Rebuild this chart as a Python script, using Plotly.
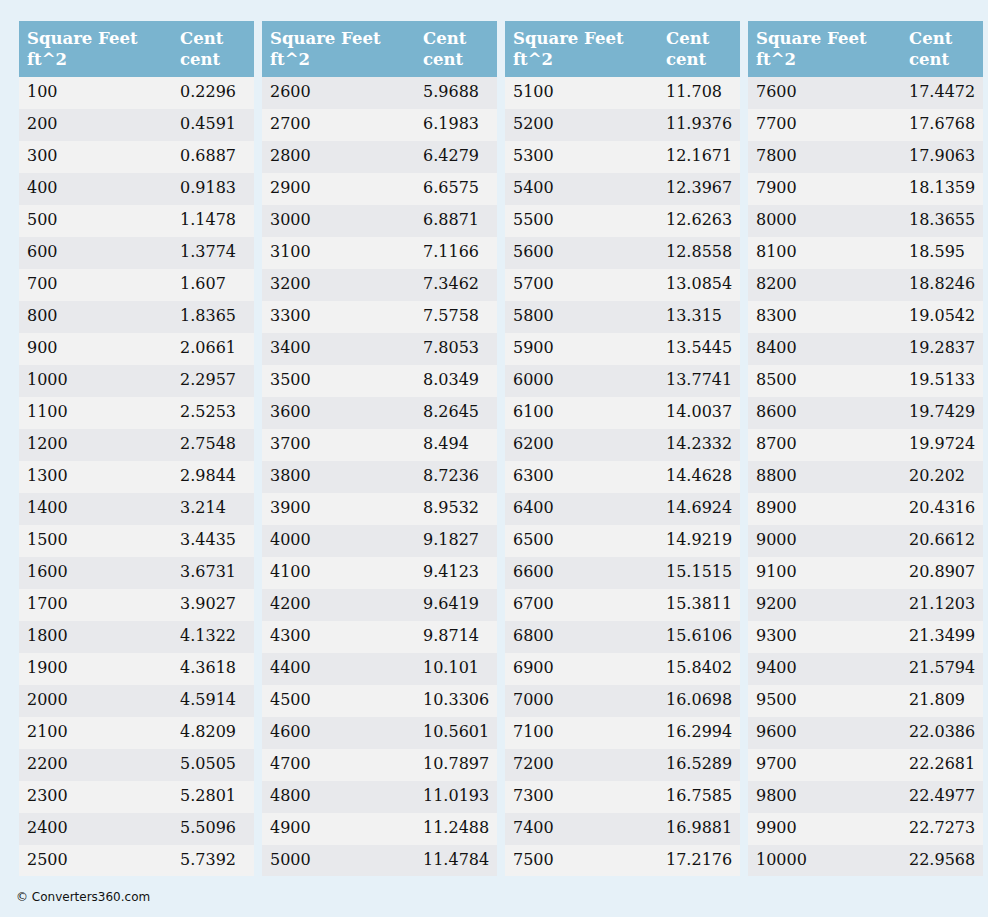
"""Square feet -> cent conversion table, four side-by-side column blocks."""

import plotly.graph_objects as go

HEADERS = ["<b>Square Feet<br>ft^2</b>", "<b>Cent<br>cent</b>"]

SQFT_1 = ["100", "200", "300", "400", "500", "600", "700", "800", "900", "1000",
          "1100", "1200", "1300", "1400", "1500", "1600", "1700", "1800", "1900", "2000",
          "2100", "2200", "2300", "2400", "2500"]
CENT_1 = ["0.2296", "0.4591", "0.6887", "0.9183", "1.1478", "1.3774", "1.607", "1.8365",
          "2.0661", "2.2957", "2.5253", "2.7548", "2.9844", "3.214", "3.4435", "3.6731",
          "3.9027", "4.1322", "4.3618", "4.5914", "4.8209", "5.0505", "5.2801", "5.5096",
          "5.7392"]

SQFT_2 = ["2600", "2700", "2800", "2900", "3000", "3100", "3200", "3300", "3400", "3500",
          "3600", "3700", "3800", "3900", "4000", "4100", "4200", "4300", "4400", "4500",
          "4600", "4700", "4800", "4900", "5000"]
CENT_2 = ["5.9688", "6.1983", "6.4279", "6.6575", "6.8871", "7.1166", "7.3462", "7.5758",
          "7.8053", "8.0349", "8.2645", "8.494", "8.7236", "8.9532", "9.1827", "9.4123",
          "9.6419", "9.8714", "10.101", "10.3306", "10.5601", "10.7897", "11.0193",
          "11.2488", "11.4784"]

SQFT_3 = ["5100", "5200", "5300", "5400", "5500", "5600", "5700", "5800", "5900", "6000",
          "6100", "6200", "6300", "6400", "6500", "6600", "6700", "6800", "6900", "7000",
          "7100", "7200", "7300", "7400", "7500"]
CENT_3 = ["11.708", "11.9376", "12.1671", "12.3967", "12.6263", "12.8558", "13.0854",
          "13.315", "13.5445", "13.7741", "14.0037", "14.2332", "14.4628", "14.6924",
          "14.9219", "15.1515", "15.3811", "15.6106", "15.8402", "16.0698", "16.2994",
          "16.5289", "16.7585", "16.9881", "17.2176"]

SQFT_4 = ["7600", "7700", "7800", "7900", "8000", "8100", "8200", "8300", "8400", "8500",
          "8600", "8700", "8800", "8900", "9000", "9100", "9200", "9300", "9400", "9500",
          "9600", "9700", "9800", "9900", "10000"]
CENT_4 = ["17.4472", "17.6768", "17.9063", "18.1359", "18.3655", "18.595", "18.8246",
          "19.0542", "19.2837", "19.5133", "19.7429", "19.9724", "20.202", "20.4316",
          "20.6612", "20.8907", "21.1203", "21.3499", "21.5794", "21.809", "22.0386",
          "22.2681", "22.4977", "22.7273", "22.9568"]

BLOCKS = [(SQFT_1, CENT_1), (SQFT_2, CENT_2), (SQFT_3, CENT_3), (SQFT_4, CENT_4)]

W, H = 988, 917
BG = "#e6f1f8"
HEAD = "#7ab4cf"
LIGHT, DARK = "#f2f2f2", "#e8e9ec"
FONT = "Georgia, 'DejaVu Serif', serif"

# pixel boxes of the four blocks in the page
LEFTS = [19, 262, 505, 748]
BLOCK_W = 235
TOP, BOTTOM = 21, 876


def build() -> go.Figure:
    fig = go.Figure()
    row0 = 0
    for left, (sqft, cent) in zip(LEFTS, BLOCKS):
        # striping runs continuously across the 100 rows, not per block
        fills = [LIGHT if (row0 + i) % 2 == 0 else DARK for i in range(len(sqft))]
        row0 += len(sqft)
        fig.add_trace(
            go.Table(
                domain=dict(x=[left / W, (left + BLOCK_W) / W], y=[1 - BOTTOM / H, 1 - TOP / H]),
                columnwidth=[153, 82],
                header=dict(
                    values=HEADERS,
                    fill_color=HEAD,
                    line=dict(color=HEAD, width=0),
                    align="left",
                    height=53,
                    font=dict(family=FONT, size=16.5, color="white"),
                ),
                cells=dict(
                    values=[sqft, cent],
                    fill_color=[fills, fills],
                    line=dict(width=0, color=LIGHT),
                    align="left",
                    height=32,
                    font=dict(family=FONT, size=16, color="#111111"),
                ),
            )
        )
    fig.add_annotation(
        text="© Converters360.com", x=14 / W, y=1 - 897 / H, xref="paper", yref="paper",
        xanchor="left", yanchor="middle", showarrow=False,
        font=dict(family="'DejaVu Sans', Verdana, sans-serif", size=12, color="#111111"),
    )
    fig.update_layout(
        width=W, height=H, margin=dict(l=0, r=0, t=0, b=0),
        paper_bgcolor=BG, plot_bgcolor=BG,
    )
    return fig


if __name__ == "__main__":
    # drop the browser's default body margin so the figure sits flush at (0, 0)
    build().write_html(
        "out.html",
        config={"displayModeBar": False},
        post_script="document.body.style.margin='0';document.body.style.background='#e6f1f8';",
    )
